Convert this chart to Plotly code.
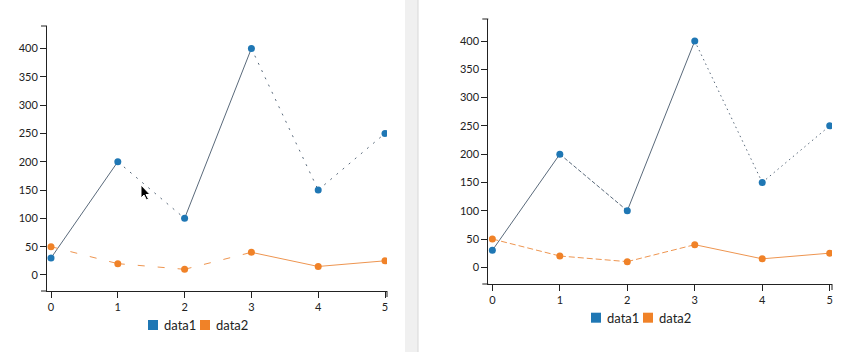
import plotly.graph_objects as go

W, H = 862, 352

# ---- data ----
x_vals = [0, 1, 2, 3, 4, 5]
data1 = [30, 200, 100, 400, 150, 250]
data2 = [50, 20, 10, 40, 15, 25]
y_ticks = [0, 50, 100, 150, 200, 250, 300, 350, 400]
series_names = ["data1", "data2"]

# segment styles per panel (between consecutive points)
left_data1_styles = ["solid", "dot", "solid", "dot", "dot"]
left_data2_styles = ["dash", "dash", "dash", "solid", "solid"]
right_data1_styles = ["solid", "dash", "solid", "dot", "dot"]
right_data2_styles = ["dash", "dash", "dash", "solid", "solid"]

C1_PT, C1_LN = "#1f77b4", "#5a6a7b"
C2_PT, C2_LN = "#f08228", "#ee9550"

left1_dash = {"solid": "solid", "dot": "2px,6px", "dash": "7px,13px"}
left2_dash = {"solid": "solid", "dot": "2px,6px", "dash": "7px,13px"}
right1_dash = {"solid": "solid", "dot": "1.5px,3.5px", "dash": "4px,2px"}
right2_dash = {"solid": "solid", "dot": "1.5px,3.5px", "dash": "6px,3px"}

fig = go.Figure()


def add_series(xa, ya, vals, styles, dash_map, ln_col, pt_col):
    for i, st in enumerate(styles):
        fig.add_trace(go.Scatter(
            x=x_vals[i:i + 2], y=vals[i:i + 2], mode="lines",
            line=dict(color=ln_col, width=1, dash=dash_map[st]),
            xaxis=xa, yaxis=ya, showlegend=False, hoverinfo="skip"))
    fig.add_trace(go.Scatter(
        x=x_vals, y=vals, mode="markers",
        marker=dict(color=pt_col, size=7),
        xaxis=xa, yaxis=ya, showlegend=False))


add_series("x", "y", data1, left_data1_styles, left1_dash, C1_LN, C1_PT)
add_series("x", "y", data2, left_data2_styles, left2_dash, C2_LN, C2_PT)
add_series("x2", "y2", data1, right_data1_styles, right1_dash, C1_LN, C1_PT)
add_series("x2", "y2", data2, right_data2_styles, right2_dash, C2_LN, C2_PT)

FONT = "Lato"
ax_common = dict(showgrid=False, zeroline=False, showline=True, linecolor="#222",
                 linewidth=1, ticks="outside", ticklen=6, tickcolor="#222",
                 tickfont=dict(family=FONT, size=11, color="#222"), fixedrange=True)

fig.update_layout(
    width=W, height=H, margin=dict(l=0, r=0, t=0, b=0),
    paper_bgcolor="white", plot_bgcolor="white", showlegend=False,
    font=dict(family=FONT, size=12, color="#222"),
    xaxis=dict(domain=[47 / W, 387 / W], range=[-0.06, 5.03], tickvals=x_vals,
               anchor="y", **ax_common),
    yaxis=dict(domain=[1 - 291 / H, 1 - 26 / H], range=[-28.3, 439.7], tickvals=y_ticks,
               anchor="x", **ax_common),
    xaxis2=dict(domain=[488.3 / W, 832 / W], range=[-0.06, 5.034], tickvals=x_vals,
                anchor="y2", **ax_common),
    yaxis2=dict(domain=[1 - 284 / H, 1 - 19 / H], range=[-29.5, 438.9], tickvals=y_ticks,
                anchor="x2", **ax_common),
)

line_k = dict(color="#222", width=1)
shapes = [
    # left panel outer ticks (d3 domain path)
    dict(type="line", xref="paper", yref="paper", x0=41 / W, x1=47 / W, y0=1 - 26 / H, y1=1 - 26 / H, line=line_k),
    dict(type="line", xref="paper", yref="paper", x0=41 / W, x1=47 / W, y0=1 - 291 / H, y1=1 - 291 / H, line=line_k),
    dict(type="line", xref="paper", yref="paper", x0=387 / W, x1=387 / W, y0=1 - 291 / H, y1=1 - 297 / H, line=line_k),
    # right panel outer ticks
    dict(type="line", xref="paper", yref="paper", x0=482.3 / W, x1=488.3 / W, y0=1 - 19 / H, y1=1 - 19 / H, line=line_k),
    dict(type="line", xref="paper", yref="paper", x0=482.3 / W, x1=488.3 / W, y0=1 - 284 / H, y1=1 - 284 / H, line=line_k),
    dict(type="line", xref="paper", yref="paper", x0=832 / W, x1=832 / W, y0=1 - 284 / H, y1=1 - 290 / H, line=line_k),
    # divider between the two panels
    dict(type="rect", xref="paper", yref="paper", x0=405 / W, x1=418 / W, y0=0, y1=1,
         fillcolor="#f0f0f0", line=dict(width=0), layer="below"),
    dict(type="line", xref="paper", yref="paper", x0=418 / W, x1=418 / W, y0=0, y1=1,
         line=dict(color="#d8d8d8", width=1)),
]

# legends (square swatch + label), one per panel
annotations = []
legend_layout = [  # (swatch left x positions, center y) per panel
    ([148, 200], 325),
    ([591, 643], 317.7),
]
for xs, yc in legend_layout:
    for name, col, x0 in zip(series_names, [C1_PT, C2_PT], xs):
        shapes.append(dict(type="rect", xref="paper", yref="paper",
                           x0=x0 / W, x1=(x0 + 10) / W,
                           y0=1 - (yc + 5) / H, y1=1 - (yc - 5) / H,
                           fillcolor=col, line=dict(width=0)))
        annotations.append(dict(text=name, xref="paper", yref="paper",
                                x=(x0 + 14) / W, y=1 - yc / H, xanchor="left", yanchor="middle",
                                showarrow=False, font=dict(family=FONT, size=13, color="#222")))


# mouse cursor (decorative) in pixel coords
def px(x, y):
    return f"{x / W:.5f},{1 - y / H:.5f}"


cx, cy = 141, 185
pts = [(0, 0), (0, 13), (3, 10), (5.5, 15), (7.5, 14), (5, 9.5), (9, 9.5)]
path = "M " + " L ".join(px(cx + a, cy + b) for a, b in pts) + " Z"
shapes.append(dict(type="path", xref="paper", yref="paper", path=path,
                   fillcolor="black", line=dict(color="white", width=1)))

fig.update_layout(shapes=shapes, annotations=annotations)
fig.write_html("out.html")
